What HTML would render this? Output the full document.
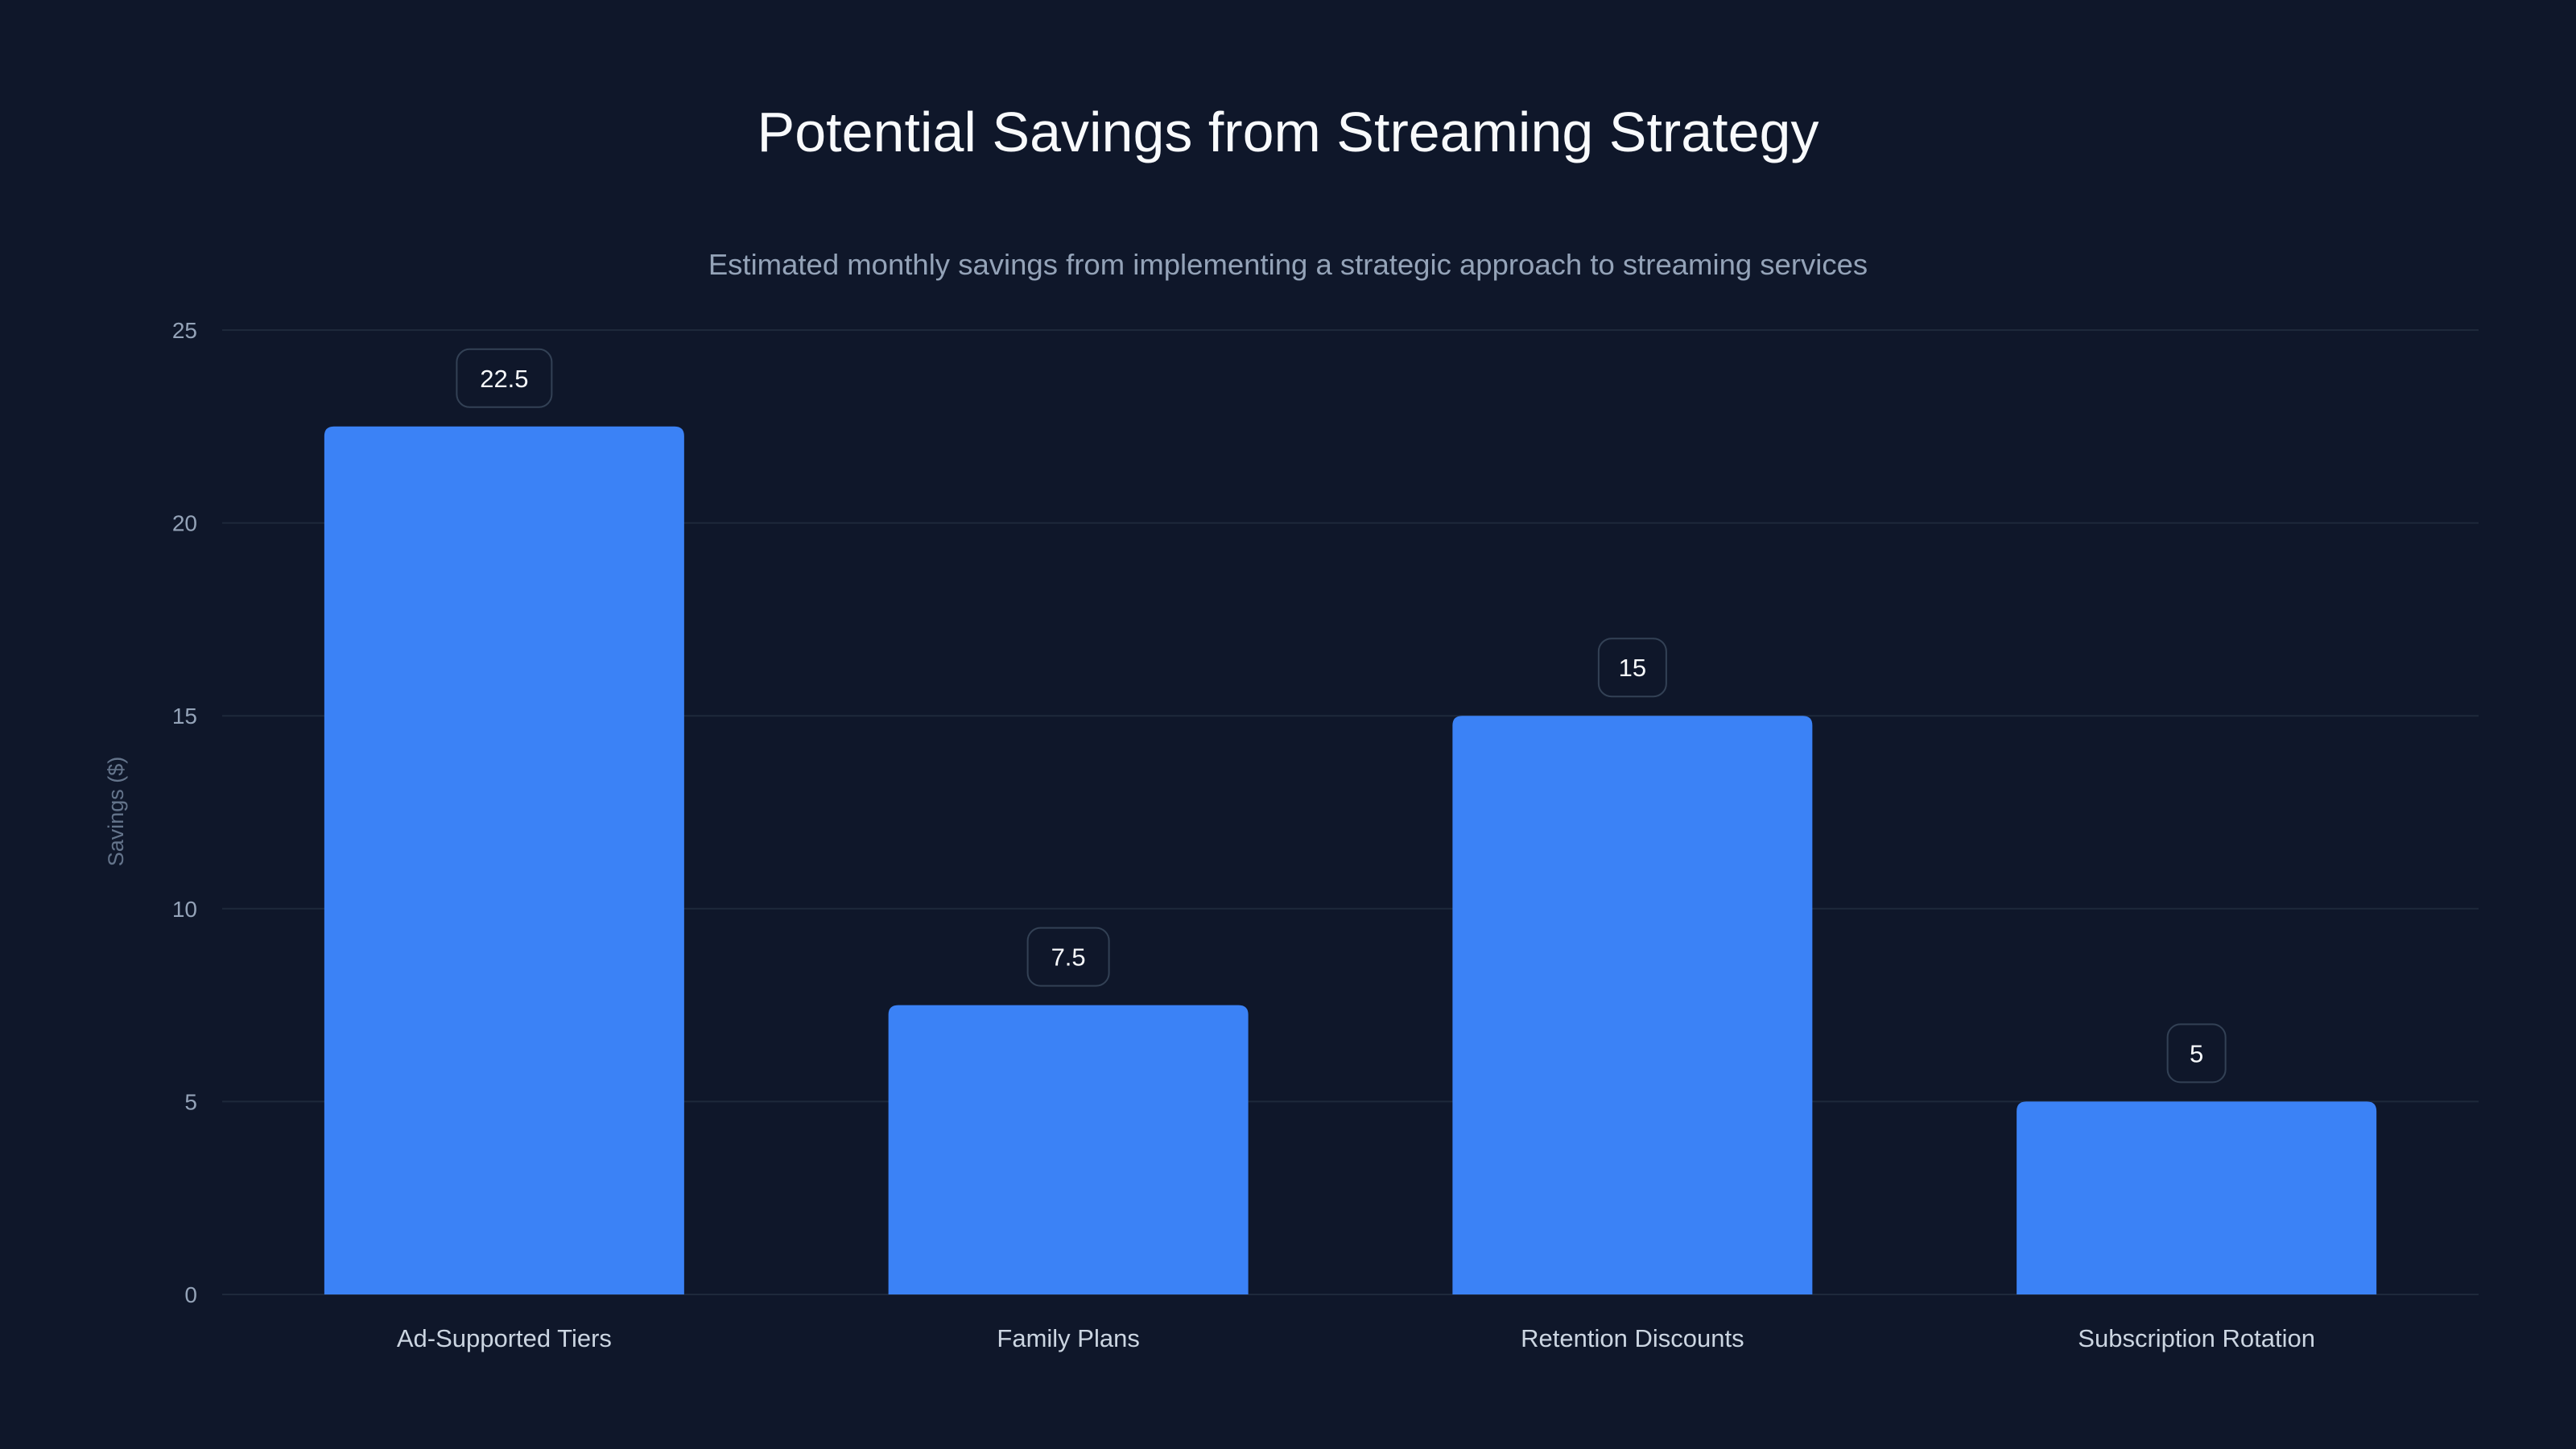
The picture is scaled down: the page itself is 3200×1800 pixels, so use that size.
<!DOCTYPE html>
<html><head><meta charset="utf-8">
<style>
html,body{margin:0;padding:0;background:#0f172a;}
svg{display:block;font-family:"Liberation Sans",sans-serif;}
</style></head>
<body>
<svg id="chart" width="3200" height="1800" viewBox="0 0 3200 1800">
<rect width="3200" height="1800" fill="#0f172a"/>
<text x="1600" y="188" text-anchor="middle" font-size="70" fill="#f8fafc">Potential Savings from Streaming Strategy</text>
<text x="1600" y="341" text-anchor="middle" font-size="36.5" fill="#94a3b8">Estimated monthly savings from implementing a strategic approach to streaming services</text>
<text x="0" y="0" transform="translate(153,1008) rotate(-90)" text-anchor="middle" font-size="27" fill="#64748b">Savings ($)</text>
<g id="grid"></g><g id="bars"></g><g id="labels"></g>
</svg>
<script>
const categories = ["Ad-Supported Tiers","Family Plans","Retention Discounts","Subscription Rotation"];
const values = [22.5, 7.5, 15, 5];
const valueLabels = ["22.5","7.5","15","5"];
const yTicks = [0,5,10,15,20,25];

const NS="http://www.w3.org/2000/svg";
const x0=276,x1=3079,yBase=1608,yTop=410,yMax=25;
const y=v=>yBase-(v/yMax)*(yBase-yTop);
const band=(x1-x0)/categories.length;
const xc=i=>x0+band*(i+0.5);
const bw=447;
function mk(t,a,p){const e=document.createElementNS(NS,t);for(const k in a)e.setAttribute(k,a[k]);p.appendChild(e);return e;}
const grid=document.getElementById('grid'),bars=document.getElementById('bars'),labels=document.getElementById('labels');
yTicks.forEach(t=>{
  const l=mk('line',{x1:x0,x2:x1,y1:y(t),y2:y(t),stroke:'#1e293b','stroke-width':2},grid);
  
  
  const tx=mk('text',{x:245,y:y(t)+10,'text-anchor':'end','font-size':28,fill:'#94a3b8'},grid);
  tx.textContent=t;
  
  
});
categories.forEach((c,i)=>{
  const top=y(values[i]),r=12,bx=xc(i)-bw/2;
  const p=mk('path',{d:`M${bx},${yBase}V${top+r}Q${bx},${top} ${bx+r},${top}H${bx+bw-r}Q${bx+bw},${top} ${bx+bw},${top+r}V${yBase}Z`,fill:'#3b82f6'},bars);
  
  
  const lbl=valueLabels[i];
  const w=Math.max(72,lbl.length*17+50);
  const g=mk('g',{},labels);
  
  
  mk('rect',{x:xc(i)-w/2,y:top-24-72,width:w,height:72,rx:16,fill:'#0f172a',stroke:'#334155','stroke-width':2},g);
  const t=mk('text',{x:xc(i),y:top-24-36+11,'text-anchor':'middle','font-size':31,fill:'#f8fafc'},g);
  t.textContent=lbl;
  const ct=mk('text',{x:xc(i),y:1673,'text-anchor':'middle','font-size':31,fill:'#cbd5e1'},labels);
  ct.textContent=c;
  
  
});
</script>
</body></html>
